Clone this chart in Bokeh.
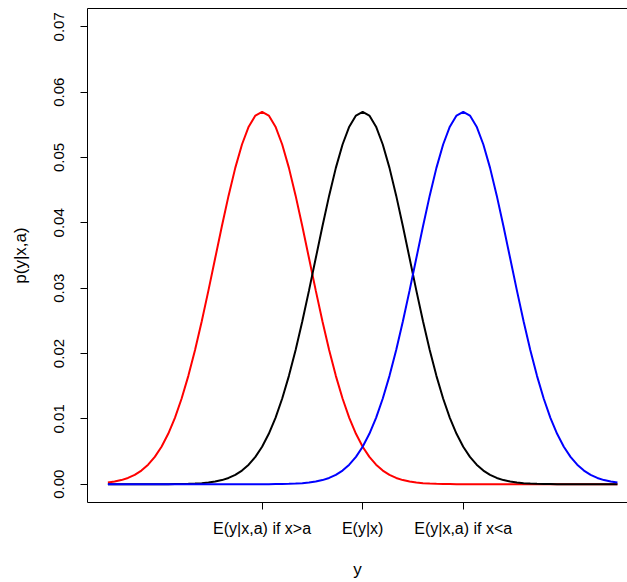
from bokeh.plotting import figure
from bokeh.models import FixedTicker, LinearAxis, Range1d, NumeralTickFormatter
from bokeh.embed import file_html
from bokeh.resources import INLINE

# y grid (0..76)
y_grid = list(range(0, 77))

# p(y|x,a) if x>a (red)
red_vals = [0.00026, 0.00041, 0.00063, 0.00096, 0.00143, 0.00209, 0.00299, 0.00418, 0.00574, 0.00771,
            0.01016, 0.01311, 0.01658, 0.02054, 0.02494, 0.02966, 0.03457, 0.03947, 0.04416, 0.04841,
            0.05199, 0.05471, 0.05641, 0.05699, 0.05641, 0.05471, 0.05199, 0.04841, 0.04416, 0.03947,
            0.03457, 0.02966, 0.02494, 0.02054, 0.01658, 0.01311, 0.01016, 0.00771, 0.00574, 0.00418,
            0.00299, 0.00209, 0.00143, 0.00096, 0.00063, 0.00041, 0.00026, 0.00016, 0.00010, 0.00006,
            0.00003, 0.00002, 0.00001, 0.00001, 0, 0, 0, 0, 0, 0,
            0, 0, 0, 0, 0, 0, 0, 0, 0, 0,
            0, 0, 0, 0, 0, 0, 0]

# p(y|x) (black)
black_vals = [0, 0, 0, 0, 0, 0, 0, 0, 0.00001, 0.00001,
              0.00002, 0.00003, 0.00006, 0.00010, 0.00016, 0.00026, 0.00041, 0.00063, 0.00096, 0.00143,
              0.00209, 0.00299, 0.00418, 0.00574, 0.00771, 0.01016, 0.01311, 0.01658, 0.02054, 0.02494,
              0.02966, 0.03457, 0.03947, 0.04416, 0.04841, 0.05199, 0.05471, 0.05641, 0.05699, 0.05641,
              0.05471, 0.05199, 0.04841, 0.04416, 0.03947, 0.03457, 0.02966, 0.02494, 0.02054, 0.01658,
              0.01311, 0.01016, 0.00771, 0.00574, 0.00418, 0.00299, 0.00209, 0.00143, 0.00096, 0.00063,
              0.00041, 0.00026, 0.00016, 0.00010, 0.00006, 0.00003, 0.00002, 0.00001, 0.00001, 0,
              0, 0, 0, 0, 0, 0, 0]

# p(y|x,a) if x<a (blue)
blue_vals = [0, 0, 0, 0, 0, 0, 0, 0, 0, 0,
             0, 0, 0, 0, 0, 0, 0, 0, 0, 0,
             0, 0, 0, 0.00001, 0.00001, 0.00002, 0.00003, 0.00006, 0.00010, 0.00016,
             0.00026, 0.00041, 0.00063, 0.00096, 0.00143, 0.00209, 0.00299, 0.00418, 0.00574, 0.00771,
             0.01016, 0.01311, 0.01658, 0.02054, 0.02494, 0.02966, 0.03457, 0.03947, 0.04416, 0.04841,
             0.05199, 0.05471, 0.05641, 0.05699, 0.05641, 0.05471, 0.05199, 0.04841, 0.04416, 0.03947,
             0.03457, 0.02966, 0.02494, 0.02054, 0.01658, 0.01311, 0.01016, 0.00771, 0.00574, 0.00418,
             0.00299, 0.00209, 0.00143, 0.00096, 0.00063, 0.00041, 0.00026]

x_tick_positions = [23, 38, 53]
x_tick_labels = ["E(y|x,a) if x>a", "E(y|x)", "E(y|x,a) if x<a"]
y_tick_positions = [0.0, 0.01, 0.02, 0.03, 0.04, 0.05, 0.06, 0.07]

FONT = "Liberation Sans"

p = figure(width=627, height=582, output_backend="svg", toolbar_location=None,
           x_range=Range1d(-3.04, 77.5), y_range=Range1d(-0.0028, 0.0728),
           min_border_left=87, min_border_right=0, min_border_top=8, min_border_bottom=80,
           x_axis_label="y", y_axis_label="p(y|x,a)")
p.outline_line_color = None
p.grid.visible = False
p.background_fill_color = "white"
p.border_fill_color = "white"

p.line(y_grid, red_vals, line_color="red", line_width=2)
p.line(y_grid, black_vals, line_color="black", line_width=2)
p.line(y_grid, blue_vals, line_color="blue", line_width=2)

for ax in [p.xaxis[0], p.yaxis[0]]:
    ax.major_tick_out = 7
    ax.major_tick_in = 0
    ax.minor_tick_out = 0
    ax.minor_tick_in = 0
    ax.axis_line_color = "black"
    ax.major_tick_line_color = "black"
    ax.major_label_text_font = FONT
    ax.major_label_text_color = "black"
    ax.axis_label_text_font = FONT
    ax.axis_label_text_font_style = "normal"
    ax.axis_label_text_color = "black"

p.xaxis.ticker = FixedTicker(ticks=x_tick_positions)
p.xaxis.major_label_overrides = {t: l for t, l in zip(x_tick_positions, x_tick_labels)}
p.xaxis.major_label_text_font_size = "16px"
p.xaxis.axis_label_text_font_size = "17px"
p.xaxis.major_label_standoff = 10
p.xaxis.axis_label_standoff = 20

p.yaxis.ticker = FixedTicker(ticks=y_tick_positions)
p.yaxis.formatter = NumeralTickFormatter(format="0.00")
p.yaxis.major_label_orientation = "vertical"
p.yaxis.major_label_text_font_size = "15px"
p.yaxis.axis_label_text_font_size = "17px"
p.yaxis.major_label_standoff = 16
p.yaxis.axis_label_standoff = 22

top = LinearAxis(ticker=FixedTicker(ticks=[]), major_label_text_font_size="0px",
                 major_tick_out=0, major_tick_in=0, minor_tick_out=0, minor_tick_in=0,
                 axis_line_color="black")
p.add_layout(top, "above")

open("out.html", "w").write(file_html(p, INLINE))
